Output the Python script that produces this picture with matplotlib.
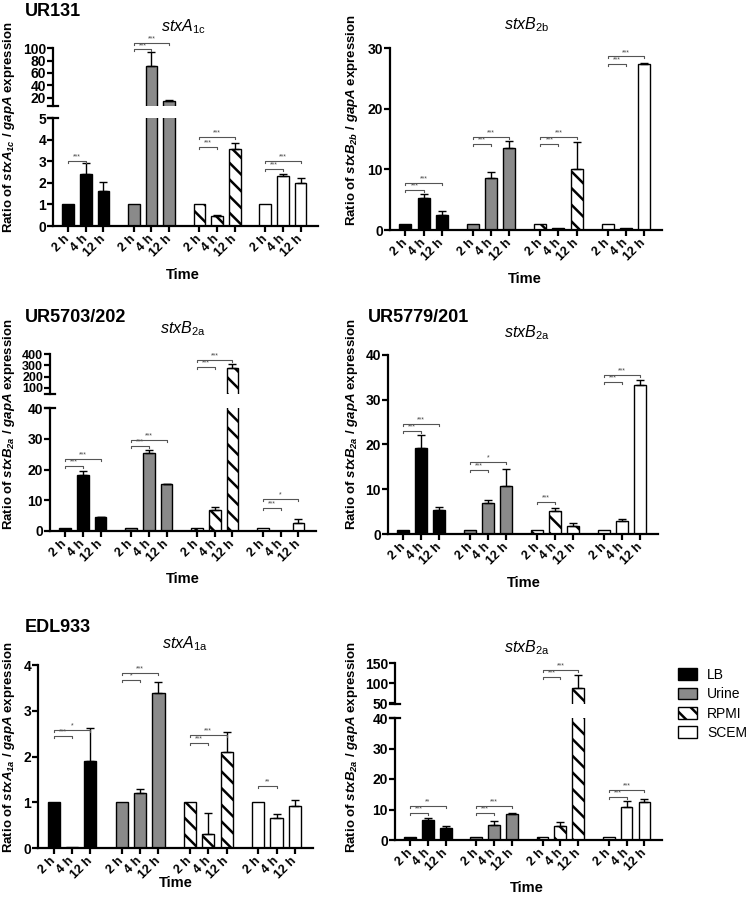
import numpy as np
import matplotlib
matplotlib.use('Agg')
import matplotlib.pyplot as plt
from matplotlib.patches import Patch

plt.rcParams['font.family'] = ['Liberation Sans', 'DejaVu Sans']
plt.rcParams['mathtext.fontset'] = 'custom'
plt.rcParams['mathtext.rm'] = 'Liberation Sans'
plt.rcParams['mathtext.it'] = 'Liberation Sans:italic'
plt.rcParams['mathtext.bf'] = 'Liberation Sans:italic:bold'
plt.rcParams['hatch.linewidth'] = 1.8

media = ['LB', 'Urine', 'RPMI', 'SCEM']
times = ['2 h', '4 h', '12 h']

# values per bar: LB 2/4/12 h, Urine 2/4/12 h, RPMI 2/4/12 h, SCEM 2/4/12 h
ur131_a_mean = [1, 2.4, 1.6, 1, 72, 15, 1, 0.47, 3.55, 1, 2.3, 2.0]
ur131_a_err = [0, 0.5, 0.45, 0, 22, 2, 0, 0.05, 0.3, 0, 0.12, 0.2]
ur131_a_sig = [(0, 0, 1, 3.0, '***'), (1, 0, 1, 98, '***'), (1, 0, 2, 109, '***'),
               (2, 0, 1, 3.64, '***'), (2, 0, 2, 4.13, '***'),
               (3, 0, 1, 2.62, '***'), (3, 0, 2, 3.0, '***')]

ur131_b_mean = [1, 5.2, 2.5, 1, 8.6, 13.5, 1, 0.27, 10.1, 1, 0.35, 27.3]
ur131_b_err = [0, 0.7, 0.7, 0, 0.9, 1.2, 0, 0, 4.4, 0, 0, 0.15]
ur131_b_sig = [(0, 0, 1, 6.6, '***'), (0, 0, 2, 7.8, '***'), (1, 0, 1, 14.1, '***'),
               (1, 0, 2, 15.3, '***'), (2, 0, 1, 14.1, '***'), (2, 0, 2, 15.3, '***'),
               (3, 0, 1, 27.4, '***'), (3, 0, 2, 28.6, '***')]

ur5703_mean = [1, 18.2, 4.4, 1, 25.4, 15.3, 1, 6.8, 277, 1, 0.1, 2.6]
ur5703_err = [0, 1.2, 0.1, 0, 1.0, 0.1, 0, 0.9, 36, 0, 0, 1.2]
ur5703_sig = [(0, 0, 1, 21.1, '***'), (0, 0, 2, 23.4, '***'), (1, 0, 1, 27.5, '***'),
              (1, 0, 2, 29.7, '***'), (2, 0, 1, 283, '***'), (2, 0, 2, 352, '***'),
              (3, 0, 1, 7.4, '***'), (3, 0, 2, 10.5, '*')]

ur5779_mean = [1, 19.2, 5.4, 1, 6.9, 10.8, 1, 5.2, 1.85, 1, 2.95, 33.3]
ur5779_err = [0, 3.0, 0.7, 0, 0.6, 3.7, 0, 0.6, 0.55, 0, 0.5, 1.1]
ur5779_sig = [(0, 0, 1, 23.0, '***'), (0, 0, 2, 24.5, '***'), (1, 0, 1, 14.3, '***'),
              (1, 0, 2, 16.0, '*'), (2, 0, 1, 7.25, '***'), (3, 0, 1, 33.9, '***'),
              (3, 0, 2, 35.6, '***')]

edl_a_mean = [1, 0.02, 1.91, 1, 1.2, 3.38, 1, 0.31, 2.09, 1, 0.66, 0.92]
edl_a_err = [0, 0, 0.72, 0, 0.08, 0.24, 0, 0.45, 0.45, 0, 0.09, 0.13]
edl_a_sig = [(0, 0, 1, 2.44, '***'), (0, 0, 2, 2.57, '*'), (1, 0, 1, 3.67, '*'),
             (1, 0, 2, 3.82, '***'), (2, 0, 1, 2.29, '***'), (2, 0, 2, 2.46, '***'),
             (3, 0, 1, 1.35, '**')]

edl_b_mean = [1, 6.6, 3.8, 1, 4.9, 8.55, 1, 4.6, 89, 1, 10.75, 12.4]
edl_b_err = [0, 0.5, 0.8, 0, 1.35, 0.25, 0, 1.4, 31, 0, 2.05, 1.0]
edl_b_sig = [(0, 0, 1, 8.8, '***'), (0, 0, 2, 11.0, '**'), (1, 0, 1, 8.8, '***'),
             (1, 0, 2, 11.3, '***'), (2, 0, 1, 114, '***'), (2, 0, 2, 132, '***'),
             (3, 0, 1, 14.0, '***'), (3, 0, 2, 16.4, '***')]

W, H = 750, 905
fig = plt.figure(figsize=(W / 100, H / 100), dpi=100)

faces = ['black', '#8a8a8a', 'white', 'white']
hatches = [None, None, '\\\\', None]
GAP = 3.72
XS = [g * GAP + i for g in range(4) for i in range(3)]


def add_ax(x0, x1, ytop, ybot):
    return fig.add_axes([x0 / W, 1 - ybot / H, (x1 - x0) / W, (ybot - ytop) / H])


def style(ax, ylim, yticks, bounds, show_x=True, tsize=10):
    ax.set_xlim(-0.85, 14.15)
    ax.set_ylim(*ylim)
    ax.set_yticks(yticks)
    ax.set_yticklabels([str(t) for t in yticks], fontweight='bold', fontsize=tsize)
    ax.spines[['top', 'right']].set_visible(False)
    ax.spines['left'].set_bounds(*bounds)
    ax.spines['left'].set_linewidth(1.6)
    ax.spines['bottom'].set_linewidth(1.6)
    ax.tick_params(axis='y', width=1.6, length=4, pad=1)
    if show_x:
        ax.set_xticks(XS)
        ax.set_xticklabels(times * 4, rotation=45, ha='right', va='center',
                           rotation_mode='anchor', fontweight='bold', fontsize=9)
        ax.tick_params(axis='x', width=1.6, length=4, pad=4)
    else:
        ax.spines['bottom'].set_visible(False)
        ax.set_xticks([])
    ax.patch.set_alpha(0)


def draw_bars(ax, mean, err):
    for k in range(12):
        g = k // 3
        ax.bar(XS[k], mean[k], width=0.66, facecolor=faces[g], edgecolor='black',
               hatch=hatches[g], linewidth=1.0, zorder=2)
    idx = [k for k in range(12) if err[k] > 0]
    ax.errorbar([XS[k] for k in idx], [mean[k] for k in idx],
                yerr=[[0] * len(idx), [err[k] for k in idx]], fmt='none',
                ecolor='black', elinewidth=1, capsize=3, capthick=1, zorder=3)


def draw_sig(ax_lo, ax_hi, sig):
    for g, i, j, y, lab in sig:
        ax = ax_lo
        if ax_hi is not None and y > ax_lo.get_ylim()[1]:
            ax = ax_hi
        lo, hi = ax.get_ylim()
        d = 2.0 * (hi - lo) / (ax.get_position().height * H)
        x1, x2 = XS[g * 3 + i], XS[g * 3 + j]
        ax.plot([x1, x1, x2, x2], [y - d, y, y, y - d], color='#555555', lw=0.8,
                clip_on=False, zorder=4)
        ax.text((x1 + x2) / 2, y + d * 0.3, lab, ha='center', va='bottom',
                fontsize=5, color='#444444')


def break_mark(ax, y):
    ax.plot([-0.018, 0.018], [y, y], transform=ax.get_yaxis_transform(),
            color='black', lw=1.6, clip_on=False)


def panel(x0, x1, lo_box, lo_lim, lo_ticks, mean, err, sig,
          hi_box=None, hi_lim=None, hi_ticks=None, hi_size=10):
    ax_lo = add_ax(x0, x1, *lo_box)
    draw_bars(ax_lo, mean, err)
    style(ax_lo, lo_lim, lo_ticks, (lo_lim[0], lo_ticks[-1]))
    ax_hi = None
    if hi_box is not None:
        ax_hi = add_ax(x0, x1, *hi_box)
        draw_bars(ax_hi, mean, err)
        style(ax_hi, hi_lim, hi_ticks, (hi_lim[0], hi_ticks[-1]), show_x=False,
              tsize=hi_size)
        break_mark(ax_hi, hi_lim[0])
        break_mark(ax_lo, lo_ticks[-1])
    draw_sig(ax_lo, ax_hi, sig)


# UR131
panel(53, 318, (118, 226), (0, 5), [0, 1, 2, 3, 4, 5], ur131_a_mean, ur131_a_err, ur131_a_sig,
      hi_box=(39, 106), hi_lim=(6.5, 115), hi_ticks=[20, 40, 60, 80, 100])
panel(390, 662, (48, 230), (0, 30), [0, 10, 20, 30], ur131_b_mean, ur131_b_err, ur131_b_sig)
# UR5703/202
panel(50, 316, (408, 531), (0, 40), [0, 10, 20, 30, 40], ur5703_mean, ur5703_err, ur5703_sig,
      hi_box=(352, 394), hi_lim=(45, 420), hi_ticks=[100, 200, 300, 400], hi_size=9)
# UR5779/201
panel(388, 658, (355, 534), (0, 40), [0, 10, 20, 30, 40], ur5779_mean, ur5779_err, ur5779_sig)
# EDL933
panel(38, 313, (665, 848), (0, 4), [0, 1, 2, 3, 4], edl_a_mean, edl_a_err, edl_a_sig)
panel(395, 662, (718, 840), (0, 40), [0, 10, 20, 30, 40], edl_b_mean, edl_b_err, edl_b_sig,
      hi_box=(661, 704), hi_lim=(48, 155), hi_ticks=[50, 100, 150])


def ftext(x, y, s, **kw):
    fig.text(x / W, 1 - y / H, s, **kw)


for x, y, s in [(25, 11, 'UR131'), (25, 317, 'UR5703/202'), (368, 317, 'UR5779/201'),
                (25, 627, 'EDL933')]:
    ftext(x, y, s, fontsize=13, fontweight='bold', ha='left', va='center')

for x, y, s in [(183, 27, r'$stxA_{\mathrm{1c}}$'), (527, 25, r'$stxB_{\mathrm{2b}}$'),
                (183, 329, r'$stxB_{\mathrm{2a}}$'), (527, 333, r'$stxB_{\mathrm{2a}}$'),
                (185, 644, r'$stxA_{\mathrm{1a}}$'), (527, 648, r'$stxB_{\mathrm{2a}}$')]:
    ftext(x, y, s, fontsize=11.5, ha='center', va='center')

for x, y, g in [(9, 127, 'stxA_{1c}'), (352, 120, 'stxB_{2b}'), (9, 424, 'stxB_{2a}'),
                (352, 424, 'stxB_{2a}'), (9, 747, 'stxA_{1a}'), (352, 747, 'stxB_{2a}')]:
    ftext(x, y, r'Ratio of $\mathbf{' + g + r'}$ / $\mathbf{gapA}$ expression',
          fontsize=9.5, fontweight='bold', rotation=90, ha='center', va='center')

for x, y in [(183, 275), (525, 279), (183, 579), (524, 583), (176, 883), (527, 888)]:
    ftext(x, y, 'Time', fontsize=10.5, fontweight='bold', ha='center', va='center')

handles = [Patch(facecolor=faces[g], edgecolor='black', hatch=hatches[g], lw=1)
           for g in range(4)]
fig.legend(handles, media, loc='upper left', bbox_to_anchor=(678 / W, 1 - 668 / H),
           frameon=False, fontsize=10, handlelength=1.4, handleheight=0.9,
           handletextpad=0.7, labelspacing=0.38, borderaxespad=0, borderpad=0)

fig.savefig('out.png', dpi=100)
